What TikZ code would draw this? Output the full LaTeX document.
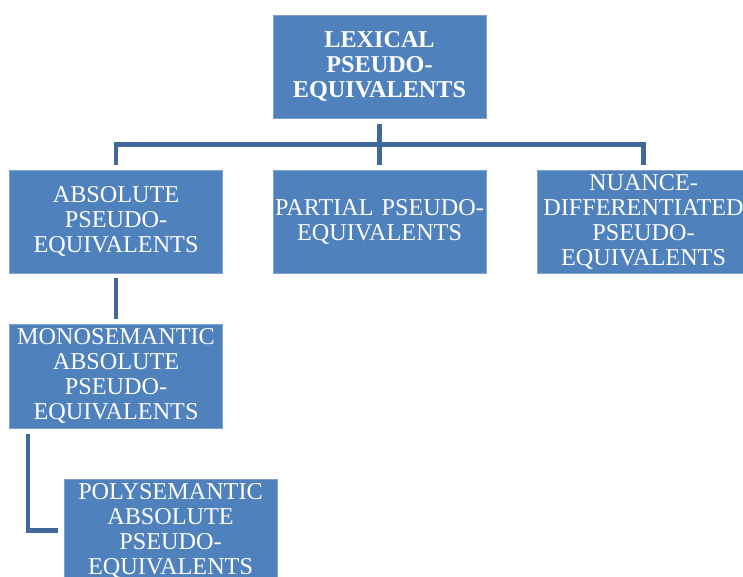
\documentclass[tikz,border=0pt]{standalone}
\usepackage{fontspec}
\setmainfont{Liberation Serif}
\definecolor{boxfill}{HTML}{4F81BD}
\definecolor{boxedge}{HTML}{7FA3CF}
\definecolor{connc}{HTML}{41689A}
\begin{document}
\begin{tikzpicture}[x=1pt,y=-1pt,
  box/.style={draw=boxedge,line width=0.8pt,fill=boxfill,text=white,
    minimum width=213pt,minimum height=103pt,inner sep=0pt,
    text width=212pt,align=center,
    font=\fontsize{24.2pt}{25pt}\selectfont},
  conn/.style={draw=connc,line width=4.6pt}]
\useasboundingbox (0,0) rectangle (743,576);
\node[box,font=\fontsize{24.2pt}{25pt}\selectfont\bfseries] (root) at (379.5,66.5) {LEXICAL\\PSEUDO-\\EQUIVALENTS};
\node[box] (abs) at (116,221.5) {ABSOLUTE\\PSEUDO-\\EQUIVALENTS};
\node[box] (part) at (379.5,221.5) {PARTIAL PSEUDO-\\EQUIVALENTS};
\node[box] (nu) at (643.5,221.5) {NUANCE-\\DIFFERENTIATED\\PSEUDO-\\EQUIVALENTS};
\node[box,minimum height=104pt] (mono) at (116,376) {MONOSEMANTIC\\ABSOLUTE\\PSEUDO-\\EQUIVALENTS};
\node[box] (poly) at (170.5,530.5) {POLYSEMANTIC\\ABSOLUTE\\PSEUDO-\\EQUIVALENTS};
\draw[conn] ([yshift=-6pt]root.south) -- ([yshift=5pt]part.north);
\draw[conn] ([yshift=5pt]abs.north) -- ([yshift=25pt]abs.north) -| ([yshift=5pt]nu.north);
\draw[conn] ([yshift=-5pt]abs.south) -- ([yshift=5pt]mono.north);
\draw[conn] ([xshift=19pt,yshift=-6pt]mono.south west) |- ([xshift=-6pt]poly.west);
\end{tikzpicture}
\end{document}
